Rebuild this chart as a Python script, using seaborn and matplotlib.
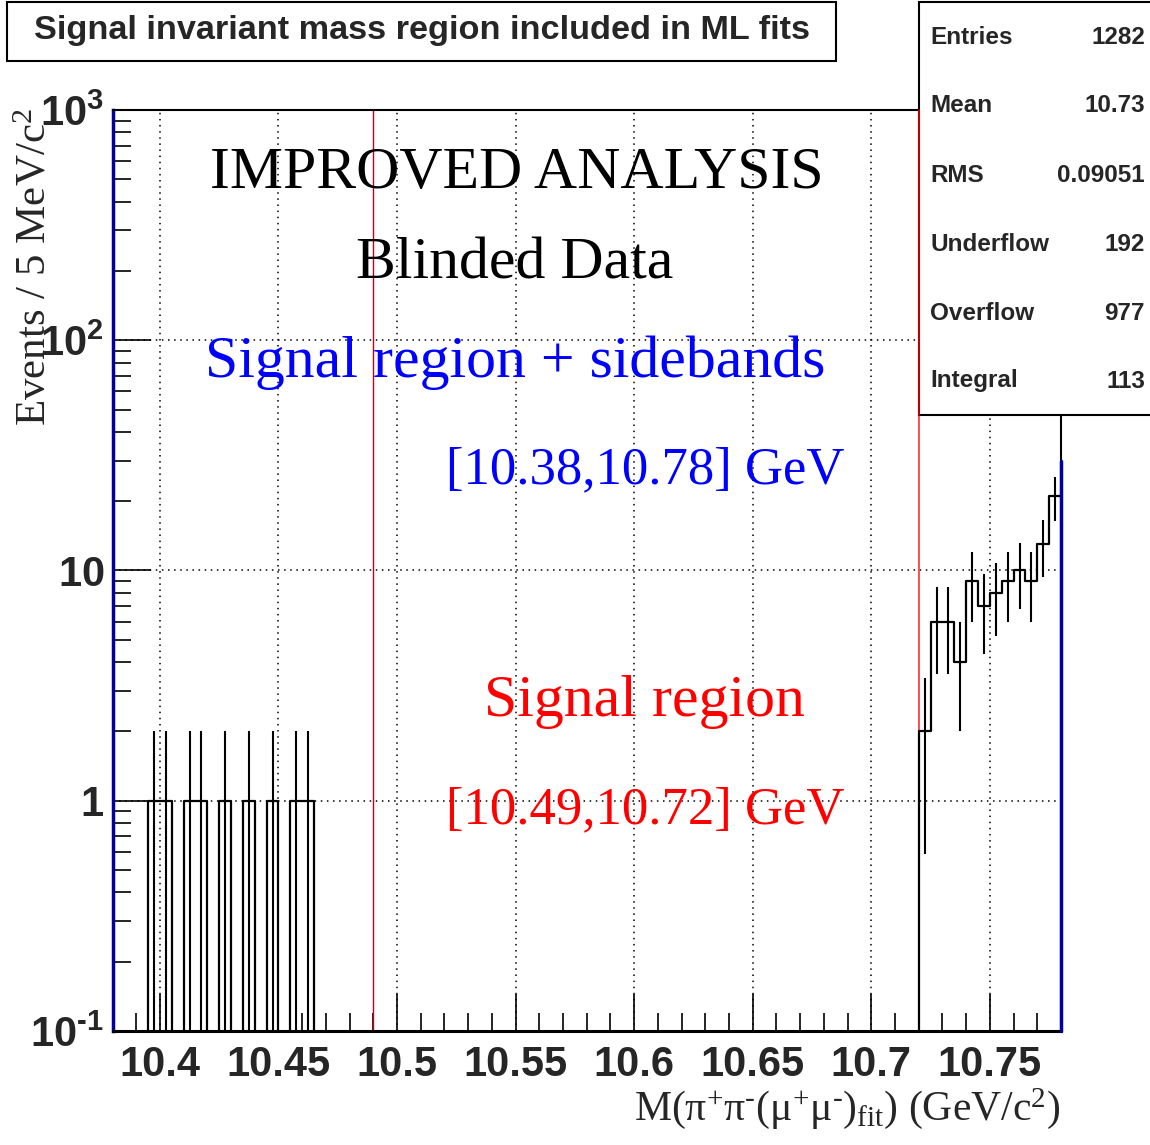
import numpy as np
import pandas as pd
import matplotlib.pyplot as plt
import matplotlib.ticker as mticker
from matplotlib.lines import Line2D
from matplotlib.patches import Rectangle
import seaborn as sns

# binning: 5 MeV bins between 10.38 and 10.78 GeV
mass_lo = 10.38
mass_hi = 10.78
bin_w = 0.005

# events per bin (lower bin edge in GeV)
low_side_edges = [10.395, 10.400, 10.410, 10.415, 10.425, 10.435, 10.445, 10.455, 10.460]
low_side_counts = [1, 1, 1, 1, 1, 1, 1, 1, 1]
high_side_edges = [10.720, 10.725, 10.730, 10.735, 10.740, 10.745,
                   10.750, 10.755, 10.760, 10.765, 10.770, 10.775]
high_side_counts = [2, 6, 6, 4, 9, 7, 8, 9, 10, 9, 13, 21]

# region boundaries
sig_region = [10.49, 10.72]
full_region = [10.38, 10.78]

x_tick_labels = ["10.4", "10.45", "10.5", "10.55", "10.6", "10.65", "10.7", "10.75"]
y_tick_values = [0.1, 1, 10, 100, 1000]
y_tick_labels = ["$\\mathbf{10^{\u20101}}$", r"$\mathbf{1}$", r"$\mathbf{10}$",
                 r"$\mathbf{10^{2}}$", r"$\mathbf{10^{3}}$"]

stat_names = ["Entries", "Mean", "RMS", "Underflow", "Overflow", "Integral"]
stat_values = ["1282", "10.73", "0.09051", "192", "977", "113"]

sns.set_theme(style="white")
plt.rcParams["font.family"] = ["Liberation Sans", "DejaVu Sans"]
plt.rcParams["mathtext.fontset"] = "custom"
plt.rcParams["mathtext.rm"] = "Liberation Serif"
plt.rcParams["mathtext.it"] = "Liberation Serif:italic"
plt.rcParams["mathtext.bf"] = "Liberation Sans:bold"
plt.rcParams["mathtext.default"] = "regular"

df = pd.DataFrame({
    "mass": np.array(low_side_edges + high_side_edges) + bin_w / 2,
    "events": low_side_counts + high_side_counts,
})
n_bins = int(round((mass_hi - mass_lo) / bin_w))
edges = [mass_lo + i * bin_w for i in range(n_bins + 1)]

W, H = 1150, 1145
fig = plt.figure(figsize=(11.5, 11.45), dpi=100)
ax = fig.add_axes([112.5 / W, 1 - 1031 / H, (1061 - 112.5) / W, (1031 - 110) / H])

# region lines (under the histogram)
ax.axvline(sig_region[0], color="#c00020", lw=1.0, zorder=1.5)
ax.axvline(sig_region[1], color="#ff4040", lw=1.3, zorder=1.5)

sns.histplot(data=df, x="mass", weights="events", bins=edges, element="step",
             fill=False, color="black", linewidth=1.6, ax=ax, zorder=2)
ax.set_yscale("log")
ax.errorbar(df["mass"], df["events"], yerr=np.sqrt(df["events"]), fmt="none",
            ecolor="black", elinewidth=1.5, zorder=2)

ax.plot([full_region[1], full_region[1]], [0.1, 30], color="#0000a0", lw=2.5,
        clip_on=False, zorder=3)

ax.set_xlim(mass_lo, mass_hi)
ax.set_ylim(0.1, 1000)
ax.set_xlabel("")
ax.set_ylabel("")

ax.set_xticks([float(t) for t in x_tick_labels])
ax.set_xticklabels(x_tick_labels, fontsize=30, fontweight="bold")
ax.xaxis.set_minor_locator(mticker.MultipleLocator(0.01))
ax.set_yticks(y_tick_values)
ax.set_yticklabels(y_tick_labels, fontsize=30)
ax.yaxis.set_minor_locator(mticker.LogLocator(base=10, subs=np.arange(2, 10)))
ax.yaxis.set_minor_formatter(mticker.NullFormatter())
ax.tick_params(axis="both", which="major", direction="in", length=27, width=1.2,
               color="black", bottom=True, left=True)
ax.tick_params(axis="both", which="minor", direction="in", length=13, width=1.2,
               color="black", bottom=True, left=True)
ax.tick_params(axis="x", which="major", pad=10)
ax.tick_params(axis="y", which="major", pad=6)

ax.grid(True, which="major", color="black", linestyle=(0, (1, 3)), lw=1.1)
ax.set_axisbelow(True)

for s in ["top", "right", "bottom"]:
    ax.spines[s].set_color("black")
    ax.spines[s].set_linewidth(1.5)
ax.spines["bottom"].set_linewidth(2.2)
ax.spines["left"].set_color("#0000a0")
ax.spines["left"].set_linewidth(2.5)

# texts in the plot
serif = ["Liberation Serif", "DejaVu Serif"]
ax.text(10.5503, 458, "IMPROVED ANALYSIS", ha="center", va="baseline",
        fontsize=43, family=serif, color="black")
ax.text(10.5495, 186, "Blinded Data", ha="center", va="baseline",
        fontsize=43, family=serif, color="black")
ax.text(10.5499, 69, "Signal region + sidebands", ha="center", va="baseline",
        fontsize=43, family=serif, color="#0000ff")
ax.text(10.6888, 23.9, "[%.2f,%.2f] GeV" % tuple(full_region), ha="right", va="baseline",
        fontsize=38, family=serif, color="#0000ff")
ax.text(10.6042, 2.34, "Signal region", ha="center", va="baseline",
        fontsize=43, family=serif, color="#ff0000")
ax.text(10.6888, 0.794, "[%.2f,%.2f] GeV" % tuple(sig_region), ha="right", va="baseline",
        fontsize=38, family=serif, color="#ff0000")

# axis titles
fig.text(35 / W, 1 - 108 / H, r"Events / 5 MeV/c$^{2}$", rotation=90, ha="center",
         va="top", fontsize=31, family=serif)
fig.text(1060 / W, 1 - 1120 / H,
         "M($\\pi^{+}\\pi^{\u2010}(\\mu^{+}\\mu^{\u2010})_{fit}$) (GeV/c$^{2}$)",
         ha="right", va="baseline", fontsize=30, family=serif)

# title box
fig.add_artist(Rectangle((7 / W, 1 - 61 / H), 829 / W, 59 / H, transform=fig.transFigure,
                         facecolor="white", edgecolor="black", lw=1.5, zorder=1))
fig.text(422 / W, 1 - 30 / H, "Signal invariant mass region included in ML fits",
         ha="center", va="center", fontsize=24.7, fontweight="bold", zorder=3)

# stats box
fig.add_artist(Rectangle((919 / W, 1 - 415 / H), 300 / W, 413 / H, transform=fig.transFigure,
                         facecolor="white", edgecolor="black", lw=1.5, zorder=1))
fig.add_artist(Line2D([919 / W, 919 / W], [1 - 415 / H, 1 - 110 / H], transform=fig.transFigure,
                      color="#d00000", lw=1.3, zorder=2))
for name, val, ypx in zip(stat_names, stat_values, [38, 106, 176, 245, 314, 381]):
    fig.text(930 / W, 1 - ypx / H, name, ha="left", va="center", fontsize=17.5,
             fontweight="bold", zorder=3)
    fig.text(1145 / W, 1 - ypx / H, val, ha="right", va="center", fontsize=17.5,
             fontweight="bold", zorder=3)

fig.savefig("out.png", dpi=100)
